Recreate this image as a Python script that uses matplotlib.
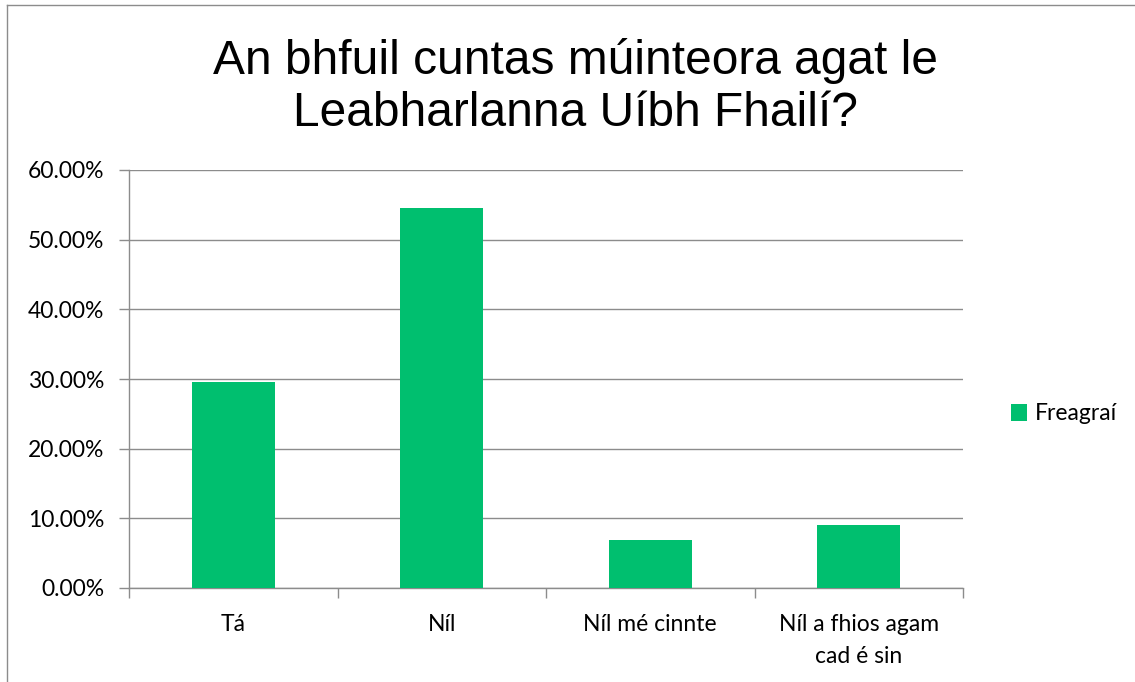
import matplotlib.pyplot as plt
from matplotlib.lines import Line2D
from matplotlib.ticker import FuncFormatter, FixedLocator

categories = ["Tá", "Níl", "Níl mé cinnte", "Níl a fhios agam\ncad é sin"]
values = [0.2955, 0.5455, 0.0682, 0.0909]
yticks = [0.0, 0.1, 0.2, 0.3, 0.4, 0.5, 0.6]
title = "An bhfuil cuntas múinteora agat le\nLeabharlanna Uíbh Fhailí?"
series_name = "Freagraí"

GREEN = "#00BF6F"
GRID = "#8c8c8c"
LABEL_FONT = ["Lato", "DejaVu Sans"]
LABEL_SIZE = 16.5

fig = plt.figure(figsize=(11.35, 6.82), dpi=100)
ax = fig.add_axes([129 / 1135, 1 - 588 / 682, (963 - 129) / 1135, (588 - 170) / 682])

x = list(range(len(categories)))
ax.bar(x, values, width=0.4, color=GREEN, label=series_name, zorder=3)

ax.set_xlim(-0.5, len(categories) - 0.5)
ax.set_ylim(0, 0.6)
ax.set_yticks(yticks)
ax.yaxis.set_major_formatter(FuncFormatter(lambda v, p: f"{v * 100:.2f}%"))
ax.grid(axis="y", color=GRID, linewidth=1, zorder=0)

ax.set_xticks(x)
ax.set_xticklabels(categories, fontfamily=LABEL_FONT, fontsize=LABEL_SIZE, linespacing=1.6)
ax.xaxis.set_minor_locator(FixedLocator([i - 0.5 for i in range(len(categories) + 1)]))
ax.tick_params(axis="x", which="major", length=0, pad=19)
ax.tick_params(axis="x", which="minor", length=7, color=GRID, width=1)
ax.tick_params(axis="y", length=7, color=GRID, width=1, pad=11)
for lab in ax.get_yticklabels():
    lab.set_fontfamily(LABEL_FONT)
    lab.set_fontsize(LABEL_SIZE)

for side in ["top", "right"]:
    ax.spines[side].set_visible(False)
for side in ["left", "bottom"]:
    ax.spines[side].set_color(GRID)
    ax.spines[side].set_linewidth(1)

fig.text(575 / 1135, 1 - 87 / 682, title, ha="center", va="center",
         fontsize=34.5, fontfamily="Liberation Sans", linespacing=1.18)

fig.legend(loc="center left", bbox_to_anchor=(990 / 1135, 1 - 414 / 682),
           frameon=False, prop={"family": LABEL_FONT, "size": LABEL_SIZE},
           handlelength=0.7, handleheight=0.7, handletextpad=0.35)

# chart frame (only top and left edges visible in the crop)
fig.add_artist(Line2D([7 / 1135, 7 / 1135], [0, 1 - 5 / 682], transform=fig.transFigure,
                      color="#8c8c8c", linewidth=1))
fig.add_artist(Line2D([7 / 1135, 1], [1 - 5 / 682, 1 - 5 / 682], transform=fig.transFigure,
                      color="#8c8c8c", linewidth=1))

fig.savefig("out.png", dpi=100)
